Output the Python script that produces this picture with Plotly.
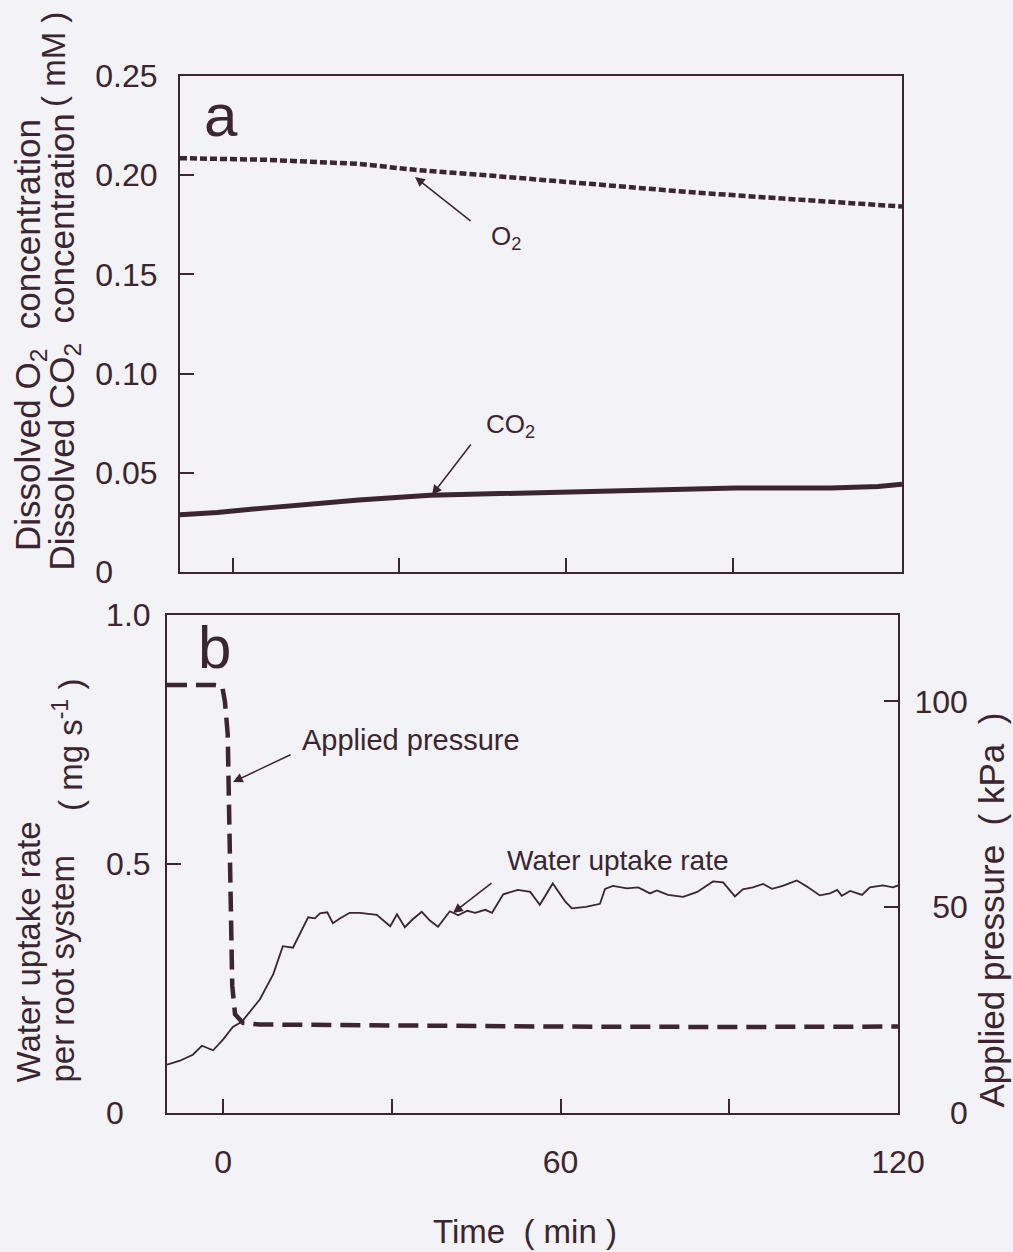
import plotly.graph_objects as go

# ---------------- data ----------------
o2_t = [-9.5, 5.6, 22.7, 32.8, 48.1, 65.2, 82.1, 99.1, 120.5]
o2_v = [0.2086, 0.2078, 0.2057, 0.2027, 0.1994, 0.1952, 0.1915, 0.1882, 0.1842]

co2_t = [-9.5, -2.8, 5.6, 14.3, 22.7, 35.5, 48.1, 60.9, 73.7, 90.6, 107.7, 116.2, 120.5]
co2_v = [0.0288, 0.0300, 0.0322, 0.0345, 0.0363, 0.0387, 0.0396, 0.0404, 0.0413,
         0.0423, 0.0423, 0.0431, 0.0442]

water_t = [-10, -7.7, -5.4, -3.8, -1.8, 0, 1.7, 3.3, 6.5, 8.9, 10.6, 12.4, 15.1, 16.3,
           17.2, 18.5, 19.5, 20.8, 22.5, 24.3, 27.3, 29.7, 30.9, 32.3, 33.7, 35.3, 36.8,
           38.2, 40.3, 41.8, 43.4, 44.8, 46.6, 47.8, 49.8, 52.4, 54.6, 56.3, 58.6, 60.8,
           62, 64.5, 67, 67.9, 69.3, 71.8, 73.8, 75.9, 77.1, 79.1, 81.8, 84.3, 87.1, 88.9,
           91, 92.4, 94.2, 96, 97.6, 99.5, 102, 103.8, 106.1, 107.9, 109.2, 110, 111.5,
           113.6, 115, 117.3, 119.1, 120]
water_v = [0.097, 0.105, 0.117, 0.135, 0.126, 0.148, 0.173, 0.183, 0.228, 0.279, 0.335,
           0.332, 0.393, 0.391, 0.401, 0.403, 0.381, 0.391, 0.402, 0.402, 0.398, 0.375,
           0.399, 0.373, 0.389, 0.404, 0.386, 0.374, 0.405, 0.397, 0.406, 0.402, 0.408,
           0.402, 0.439, 0.448, 0.444, 0.418, 0.461, 0.425, 0.411, 0.414, 0.420, 0.450,
           0.456, 0.451, 0.453, 0.441, 0.447, 0.438, 0.434, 0.444, 0.465, 0.463, 0.435,
           0.449, 0.453, 0.460, 0.450, 0.456, 0.467, 0.455, 0.437, 0.441, 0.448, 0.436,
           0.446, 0.438, 0.453, 0.457, 0.453, 0.457]

press_t = [-10, -1.5, -0.2, 0.3, 0.8, 1.0, 1.2, 1.4, 1.6, 2.1, 3.5, 6.5, 30, 60, 90, 120]
press_v = [104, 104, 103.7, 100, 92, 76, 59.5, 43, 31, 24, 21.9, 21.5, 21.2, 21.0, 20.9, 21.0]

a_yticks = [0, 0.05, 0.10, 0.15, 0.20, 0.25]
a_yticktext = ["0\u2007\u2007\u2008", "0.05", "0.10", "0.15", "0.20", "0.25"]
x_ticks = [0, 30, 60, 90, 120]
x_ticktext = ["0", "", "60", "", "120"]
b_yticks = [0, 0.5, 1.0]
b_yticktext = ["0\u2008\u2007", "0.5", "1.0"]
p_ticks = [0, 50, 100]
p_ticktext = ["\u2007\u20070", "\u200750", "100"]

# ---------------- style ----------------
W, H = 1013, 1252
INK = "#3a2531"
BG = "#f3f2f6"
FONT = "Liberation Sans, Arial, sans-serif"


def px(x):
    return x / W


def py(y):
    return 1 - y / H


fig = go.Figure()

fig.add_trace(go.Scatter(x=o2_t, y=o2_v, mode="lines", xaxis="x", yaxis="y",
                         line=dict(color=INK, width=4.5, dash="7px,3px"),
                         showlegend=False, hoverinfo="skip"))
fig.add_trace(go.Scatter(x=co2_t, y=co2_v, mode="lines", xaxis="x", yaxis="y",
                         line=dict(color=INK, width=5),
                         showlegend=False, hoverinfo="skip"))
fig.add_trace(go.Scatter(x=water_t, y=water_v, mode="lines", xaxis="x2", yaxis="y2",
                         line=dict(color=INK, width=1.8),
                         showlegend=False, hoverinfo="skip"))
fig.add_trace(go.Scatter(x=press_t, y=press_v, mode="lines", xaxis="x2", yaxis="y3",
                         line=dict(color=INK, width=4.5, dash="20px,9px"),
                         showlegend=False, hoverinfo="skip"))

axis_common = dict(showline=True, linecolor=INK, linewidth=2, ticks="inside",
                   tickcolor=INK, tickwidth=2, ticklen=14, showgrid=False,
                   zeroline=False, tickfont=dict(family=FONT, size=32, color=INK))

fig.update_layout(
    width=W, height=H, autosize=False,
    margin=dict(l=0, r=0, t=0, b=0, pad=0, autoexpand=False),
    paper_bgcolor=BG, plot_bgcolor=BG,
    font=dict(family=FONT, color=INK),
    xaxis=dict(domain=[px(180), px(902)], range=[-9.5, 120.5], anchor="y",
               tickvals=[0, 30, 60, 90], showticklabels=False, mirror=True,
               **axis_common),
    yaxis=dict(domain=[py(572), py(76)], range=[0, 0.25], anchor="x",
               tickvals=a_yticks, ticktext=a_yticktext, mirror=True,
               ticklabelstandoff=14, **axis_common),
    xaxis2=dict(domain=[px(167), px(898)], range=[-10, 120], anchor="y2",
                tickvals=x_ticks, ticktext=x_ticktext, mirror=True,
                ticklabelstandoff=20, **axis_common),
    yaxis2=dict(domain=[py(1113), py(615)], range=[0, 1.0], anchor="x2",
                tickvals=b_yticks, ticktext=b_yticktext, mirror=True,
                ticklabelstandoff=8, **axis_common),
    yaxis3=dict(range=[0, 121], anchor="x2", overlaying="y2", side="right",
                tickvals=p_ticks, ticktext=p_ticktext,
                ticklabelstandoff=8, **axis_common),
)

ann = []
big = dict(family=FONT, size=60, color=INK)
lab = dict(family=FONT, size=28, color=INK)
lab2 = dict(family=FONT, size=29, color=INK)
sml = dict(family=FONT, size=26, color=INK)
ttl = dict(family=FONT, size=33, color=INK)
ttl2 = dict(family=FONT, size=35, color=INK)


def text(x, y, s, font, xa="center", ya="middle", angle=0):
    ann.append(dict(x=px(x), y=py(y), xref="paper", yref="paper", text=s,
                    showarrow=False, font=font, xanchor=xa, yanchor=ya,
                    textangle=angle))


def arrow(tipx, tipy, tailx, taily):
    ann.append(dict(x=px(tipx), y=py(tipy), xref="paper", yref="paper", text="",
                    showarrow=True, ax=tailx - tipx, ay=taily - tipy,
                    arrowhead=2, arrowsize=1.3, arrowwidth=1.5, arrowcolor=INK))


text(221, 116, "a", big)
text(214, 648, "b", big)
text(506, 238, "O<sub>2</sub>", sml)
arrow(415, 177, 472, 222)
text(511, 426, "CO<sub>2</sub>", sml)
arrow(432, 495, 472, 443)
text(411, 740, "Applied pressure", lab2)
arrow(233, 782, 292, 754)
text(618, 860, "Water uptake rate", lab)
arrow(453, 913, 493, 882)

# axis titles
text(30, 553, "Dissolved O<sub>2</sub>\u00a0\u00a0concentration", ttl2, ya="bottom", angle=-90)
text(64, 573, "Dissolved CO<sub>2</sub>\u00a0\u00a0concentration", ttl2, ya="bottom", angle=-90)
text(54, 60, "(\u00a0mM\u00a0)", ttl, angle=-90)
text(28, 1085, "Water uptake rate", ttl, ya="bottom", angle=-90)
text(62, 1085, "per root system", ttl, ya="bottom", angle=-90)
text(68, 745, "(\u00a0mg s<sup>-1</sup>\u00a0)", ttl, angle=-90)
text(991, 1110, "Applied pressure\u00a0\u00a0(\u00a0kPa\u00a0\u00a0)", ttl2, ya="bottom", angle=-90)
text(525, 1231, "Time\u00a0\u00a0(\u00a0min\u00a0)", ttl)

fig.update_layout(annotations=ann)

fig.write_html("out.html")
